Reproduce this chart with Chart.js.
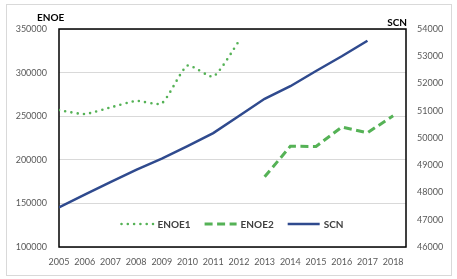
<!DOCTYPE html>
<html lang="es">
<head>
<meta charset="UTF-8">
<title>ENOE vs SCN</title>
<script src="https://cdn.jsdelivr.net/npm/chart.js"></script>
<style>
    html, body { margin: 0; padding: 0; background: #fff; }
    .wrap { position: relative; width: 457px; height: 279px; }
    .frame {
        position: absolute; left: 6px; top: 4px; width: 444px; height: 270px;
        border: 1px solid #d9d9d9; pointer-events: none;
    }
    canvas { position: absolute; left: 0; top: 0; }
</style>
</head>
<body>
<div class="wrap">
    <canvas id="chart" width="457" height="279"></canvas>
    <div class="frame"></div>
</div>
<script>
    // years shown on the x axis
    const years = [2005, 2006, 2007, 2008, 2009, 2010, 2011, 2012, 2013, 2014, 2015, 2016, 2017, 2018];

    // ENOE1: 2005-2012 (left axis)
    const enoe1Years = [2005, 2006, 2007, 2008, 2009, 2010, 2011, 2012];
    const enoe1 = [257000, 252500, 260000, 267500, 264800, 308000, 295500, 336000];

    // ENOE2: 2013-2018 (left axis)
    const enoe2Years = [2013, 2014, 2015, 2016, 2017, 2018];
    const enoe2 = [180500, 215500, 215300, 237500, 231000, 250500];

    // SCN: 2005-2017 (right axis)
    const scnYears = [2005, 2006, 2007, 2008, 2009, 2010, 2011, 2012, 2013, 2014, 2015, 2016, 2017];
    const scn = [47450, 47920, 48380, 48830, 49240, 49700, 50180, 50810, 51440, 51900, 52460, 53000, 53570];

    const leftTicks = [100000, 150000, 200000, 250000, 300000, 350000];
    const rightTicks = [46000, 47000, 48000, 49000, 50000, 51000, 52000, 53000, 54000];

    const toPoints = (xs, ys) => xs.map((x, i) => ({ x: x, y: ys[i] }));

    const green = '#55b256';
    const navy = '#2f4a8e';
    const tickFont = { family: 'Lato', size: 9 };

    // black box around plot area
    const frameBox = {
        id: 'frameBox',
        beforeDatasetsDraw(chart) {
            const a = chart.chartArea, ctx = chart.ctx;
            ctx.save();
            ctx.strokeStyle = '#000';
            ctx.lineWidth = 1.5;
            ctx.strokeRect(a.left, a.top, a.right - a.left, a.bottom - a.top);
            ctx.restore();
        }
    };

    // axis titles + legend inside the plot
    const extras = {
        id: 'extras',
        afterDraw(chart) {
            const a = chart.chartArea, ctx = chart.ctx;
            ctx.save();
            ctx.fillStyle = '#000';
            ctx.font = 'bold 10px Lato';
            ctx.textBaseline = 'middle';
            ctx.textAlign = 'left';
            ctx.fillText('ENOE', 37, 18);
            ctx.textAlign = 'right';
            ctx.fillText('SCN', a.right + 1, 23);

            // legend
            ctx.font = 'bold 10px Lato';
            const sw = 32, tg = 4, gap = 14;
            const items = chart.data.datasets;
            let total = 0;
            items.forEach((d, i) => {
                total += sw + tg + ctx.measureText(d.label).width + (i ? gap : 0);
            });
            let x = (a.left + a.right) / 2 - total / 2;
            const y = a.bottom - 23;
            items.forEach((d) => {
                ctx.save();
                ctx.strokeStyle = d.borderColor;
                ctx.lineWidth = d.borderWidth;
                ctx.lineCap = d.borderCapStyle || 'butt';
                ctx.setLineDash(d.borderDash || []);
                ctx.beginPath();
                ctx.moveTo(x, y);
                ctx.lineTo(x + sw, y);
                ctx.stroke();
                ctx.restore();
                x += sw + tg;
                ctx.fillStyle = '#404040';
                ctx.textAlign = 'left';
                ctx.fillText(d.label, x, y + 0.5);
                x += ctx.measureText(d.label).width + gap;
            });
            ctx.restore();
        }
    };

    new Chart(document.getElementById('chart'), {
        type: 'line',
        data: {
            datasets: [
                {
                    label: 'ENOE1',
                    data: toPoints(enoe1Years, enoe1),
                    yAxisID: 'y',
                    borderColor: green,
                    borderWidth: 2.6,
                    borderDash: [0, 6.3],
                    borderCapStyle: 'round',
                    pointRadius: 0,
                    tension: 0.2
                },
                {
                    label: 'ENOE2',
                    data: toPoints(enoe2Years, enoe2),
                    yAxisID: 'y',
                    borderColor: green,
                    borderWidth: 3,
                    borderDash: [8, 4.5],
                    pointRadius: 0,
                    tension: 0
                },
                {
                    label: 'SCN',
                    data: toPoints(scnYears, scn),
                    yAxisID: 'y2',
                    borderColor: navy,
                    borderWidth: 2.5,
                    pointRadius: 0,
                    tension: 0
                }
            ]
        },
        options: {
            responsive: false,
            animation: false,
            layout: { padding: { top: 29, left: 0, right: 0, bottom: 0 } },
            plugins: { legend: { display: false }, tooltip: { enabled: false } },
            scales: {
                x: {
                    type: 'linear',
                    min: years[0],
                    max: years[years.length - 1] + 0.5,
                    afterBuildTicks: (s) => { s.ticks = years.map(v => ({ value: v })); },
                    ticks: {
                        color: '#595959', font: tickFont, padding: 10, maxRotation: 0,
                        autoSkip: false, callback: (v) => String(v)
                    },
                    grid: { display: false, drawTicks: false },
                    border: { display: false },
                    afterFit: (s) => { s.height = 32; }
                },
                y: {
                    position: 'left',
                    min: 100000, max: 350000,
                    afterBuildTicks: (s) => { s.ticks = leftTicks.map(v => ({ value: v })); },
                    ticks: { color: '#595959', font: tickFont, padding: 12, callback: (v) => String(v) },
                    grid: { color: '#d9d9d9', lineWidth: 1, drawTicks: false },
                    border: { display: false },
                    afterFit: (s) => { s.width = 59; }
                },
                y2: {
                    position: 'right',
                    min: 46000, max: 54000,
                    afterBuildTicks: (s) => { s.ticks = rightTicks.map(v => ({ value: v })); },
                    ticks: { color: '#595959', font: tickFont, padding: 11, callback: (v) => String(v) },
                    grid: { display: false, drawTicks: false },
                    border: { display: false },
                    afterFit: (s) => { s.width = 51; }
                }
            }
        },
        plugins: [frameBox, extras]
    });
</script>
</body>
</html>
